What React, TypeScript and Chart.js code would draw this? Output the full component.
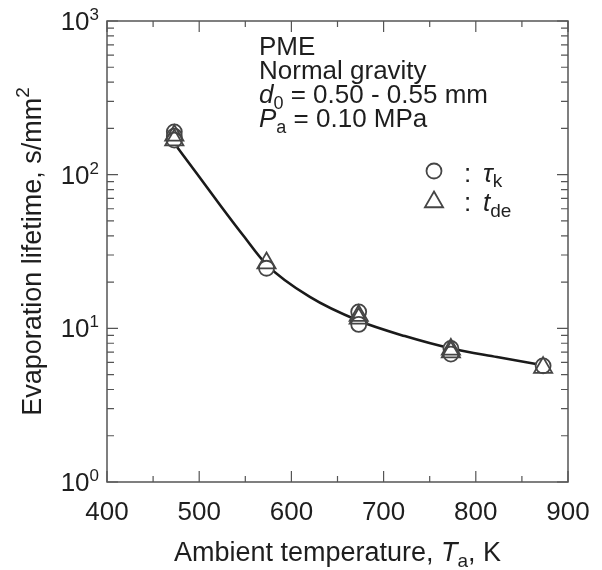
import React, { useEffect, useRef } from 'react';
import { Chart, registerables } from 'chart.js';

Chart.register(...registerables);

// ---- data ----
const tauTemp = [473, 473, 473, 573, 673, 673, 773, 773, 873];
const tauK = [190, 178, 168, 24.6, 12.8, 10.6, 7.4, 6.8, 5.7];
const tdeTemp = [473, 473, 573, 673, 673, 773, 773, 873];
const tDe = [180, 168, 26.6, 12.1, 11.6, 7.3, 7.0, 5.55];
const fitTemp = [473, 500, 523, 548, 573, 620, 673, 723, 773, 823, 873];
const fitLife = [160, 97, 63, 40, 26, 16, 11.2, 8.9, 7.4, 6.5, 5.75];

const xMajor = [400, 500, 600, 700, 800, 900];
const xMinor = [450, 550, 650, 750, 850];
const yMajor = [1, 10, 100, 1000];
const yExp = ['0', '1', '2', '3'];
const yMinor = [2, 3, 4, 5, 6, 7, 8, 9, 20, 30, 40, 50, 60, 70, 80, 90, 200, 300, 400, 500, 600, 700, 800, 900];

const FONT = '"Liberation Sans", Arial, Helvetica, sans-serif';
const INK = '#1e1e1e';
const MARK = '#454545';

type Run = { t: string; it?: boolean; s?: number; dy?: number };

function drawRuns(ctx: CanvasRenderingContext2D, x: number, y: number, runs: Run[], size: number, align: 'left' | 'center' | 'right' = 'left') {
  const widths = runs.map((r) => {
    ctx.font = `${r.it ? 'italic ' : ''}${r.s ?? size}px ${FONT}`;
    return ctx.measureText(r.t).width;
  });
  const total = widths.reduce((a, b) => a + b, 0);
  let cx = align === 'center' ? x - total / 2 : align === 'right' ? x - total : x;
  ctx.textAlign = 'left';
  ctx.textBaseline = 'alphabetic';
  runs.forEach((r, i) => {
    ctx.font = `${r.it ? 'italic ' : ''}${r.s ?? size}px ${FONT}`;
    ctx.fillText(r.t, cx, y + (r.dy ?? 0));
    cx += widths[i];
  });
}

const decorPlugin = {
  id: 'decor',
  afterDraw(chart: any) {
    const ctx: CanvasRenderingContext2D = chart.ctx;
    const xs = chart.scales.x;
    const ys = chart.scales.y;
    const { left, right, top, bottom } = chart.chartArea;
    ctx.save();
    // frame
    ctx.strokeStyle = '#555';
    ctx.lineWidth = 1.5;
    ctx.strokeRect(left, top, right - left, bottom - top);
    // ticks
    ctx.lineWidth = 1.2;
    ctx.beginPath();
    const xt = (v: number, len: number) => {
      const px = xs.getPixelForValue(v);
      ctx.moveTo(px, bottom); ctx.lineTo(px, bottom - len);
      ctx.moveTo(px, top); ctx.lineTo(px, top + len);
    };
    xMajor.forEach((v) => xt(v, 11));
    xMinor.forEach((v) => xt(v, 6));
    const yt = (v: number, len: number) => {
      const py = ys.getPixelForValue(v);
      ctx.moveTo(left, py); ctx.lineTo(left + len, py);
      ctx.moveTo(right, py); ctx.lineTo(right - len, py);
    };
    yMajor.forEach((v) => yt(v, 11));
    yMinor.forEach((v) => yt(v, 7));
    ctx.stroke();

    ctx.fillStyle = INK;
    // x tick labels
    xMajor.forEach((v) => {
      drawRuns(ctx, xs.getPixelForValue(v), bottom + 38, [{ t: String(v) }], 26, 'center');
    });
    // y tick labels 10^n
    yMajor.forEach((v, i) => {
      const py = ys.getPixelForValue(v);
      drawRuns(ctx, left - 8, py + 9, [{ t: '10' }, { t: yExp[i], s: 17, dy: -10 }], 26, 'right');
    });
    // axis titles
    drawRuns(ctx, (left + right) / 2, 561, [
      { t: 'Ambient temperature, ' },
      { t: 'T', it: true },
      { t: 'a', s: 19, dy: 6 },
      { t: ', K' },
    ], 27, 'center');
    ctx.save();
    ctx.translate(0, (top + bottom) / 2);
    ctx.rotate(-Math.PI / 2);
    drawRuns(ctx, 0, 41, [
      { t: 'Evaporation lifetime, s/mm' },
      { t: '2', s: 19, dy: -12 },
    ], 27, 'center');
    ctx.restore();

    // info text block
    const tx = 259;
    drawRuns(ctx, tx, 55, [{ t: 'PME' }], 26);
    drawRuns(ctx, tx, 79, [{ t: 'Normal gravity' }], 26);
    drawRuns(ctx, tx, 103, [{ t: 'd', it: true }, { t: '0', s: 18, dy: 6 }, { t: ' = 0.50 - 0.55 mm' }], 26);
    drawRuns(ctx, tx, 127, [{ t: 'P', it: true }, { t: 'a', s: 18, dy: 6 }, { t: ' = 0.10 MPa' }], 26);

    // legend markers
    ctx.strokeStyle = MARK;
    ctx.lineWidth = 1.8;
    ctx.beginPath();
    ctx.arc(434, 171, 7.5, 0, Math.PI * 2);
    ctx.stroke();
    const r = 10.5, cx = 434, cy = 202;
    ctx.beginPath();
    ctx.moveTo(cx, cy - r);
    ctx.lineTo(cx + r * Math.sin((2 * Math.PI) / 3), cy - r * Math.cos((2 * Math.PI) / 3));
    ctx.lineTo(cx + r * Math.sin((4 * Math.PI) / 3), cy - r * Math.cos((4 * Math.PI) / 3));
    ctx.closePath();
    ctx.stroke();
    drawRuns(ctx, 464, 182, [{ t: ':' }], 26);
    drawRuns(ctx, 483, 182, [{ t: 'τ', it: true }, { t: 'k', s: 19, dy: 5 }], 26);
    drawRuns(ctx, 464, 211, [{ t: ':' }], 26);
    drawRuns(ctx, 483, 211, [{ t: 't', it: true }, { t: 'de', s: 19, dy: 6 }], 26);
    ctx.restore();
  },
};

export default function App() {
  const ref = useRef<HTMLCanvasElement | null>(null);
  useEffect(() => {
    if (!ref.current) return;
    const chart = new Chart(ref.current, {
      type: 'scatter',
      data: {
        datasets: [
          {
            label: 't_de',
            data: tdeTemp.map((t, i) => ({ x: t, y: tDe[i] })),
            pointStyle: 'triangle',
            pointRadius: 10.5,
            borderWidth: 1.8,
            borderColor: MARK,
            backgroundColor: 'rgba(255,255,255,0)',
            showLine: false,
          },
          {
            label: 'tau_k',
            data: tauTemp.map((t, i) => ({ x: t, y: tauK[i] })),
            pointStyle: 'circle',
            pointRadius: 7.5,
            borderWidth: 1.8,
            borderColor: MARK,
            backgroundColor: '#fff',
            showLine: false,
          },
          {
            label: 'fit',
            data: fitTemp.map((t, i) => ({ x: t, y: fitLife[i] })),
            showLine: true,
            pointRadius: 0,
            borderColor: '#1a1a1a',
            borderWidth: 2.6,
            cubicInterpolationMode: 'monotone',
            fill: false,
          } as any,
        ],
      },
      options: {
        responsive: false,
        animation: false,
        layout: { padding: { left: 107, right: 34, top: 21, bottom: 88 } },
        scales: {
          x: { type: 'linear', min: 400, max: 900, display: false },
          y: { type: 'logarithmic', min: 1, max: 1000, display: false },
        },
        plugins: { legend: { display: false }, tooltip: { enabled: false } },
        events: [],
      },
      plugins: [decorPlugin],
    });
    return () => chart.destroy();
  }, []);
  return (
    <canvas
      ref={ref}
      width={602}
      height={570}
      style={{ position: 'absolute', left: 0, top: 0, width: 602, height: 570, background: '#fff' }}
    />
  );
}
